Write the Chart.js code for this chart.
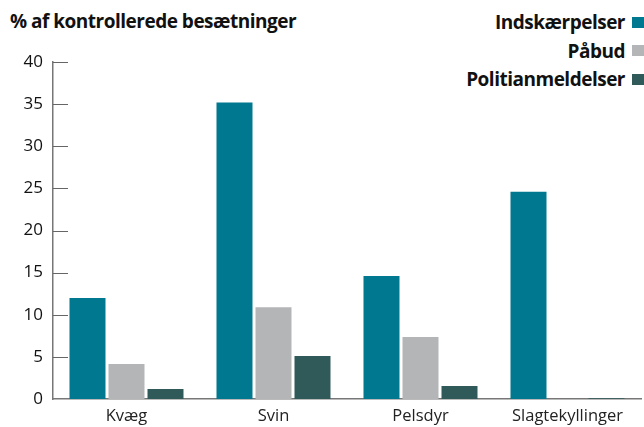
<!DOCTYPE html>
<html>
<head>
<meta charset="utf-8">
<script src="https://cdn.jsdelivr.net/npm/chart.js@4"></script>
<style>
  html,body{margin:0;padding:0;background:#fff;}
  #wrap{position:relative;width:644px;height:427px;font-family:"Open Sans",sans-serif;}
  #title{position:absolute;left:10px;top:8px;font-weight:bold;font-size:19px;color:#111;letter-spacing:-0.5px;white-space:nowrap;}
  #legend{position:absolute;right:0px;top:8px;}
  .li{display:flex;align-items:center;justify-content:flex-end;height:28.5px;font-weight:bold;font-size:19px;color:#111;letter-spacing:-0.5px;white-space:nowrap;}
  .sw{width:12px;height:11px;margin-left:7px;}
  canvas{position:absolute;left:0;top:0;}
</style>
</head>
<body>
<div id="wrap">
  <div id="title">% af kontrollerede besætninger</div>
  <div id="legend"></div>
  <canvas id="c" width="644" height="427"></canvas>
</div>
<script>
const categories = ["Kvæg", "Svin", "Pelsdyr", "Slagtekyllinger"];
const seriesNames = ["Indskærpelser", "Påbud", "Politianmeldelser"];
const indskaerpelser = [12.0, 35.2, 14.6, 24.6];
const paabud = [4.15, 10.9, 7.35, 0];
const politianmeldelser = [1.2, 5.1, 1.55, 0.1];
const yTicks = [0, 5, 10, 15, 20, 25, 30, 35, 40];
const colors = ["#00788f", "#b4b5b7", "#305a5a"];

const values = [indskaerpelser, paabud, politianmeldelser];

const legend = document.getElementById('legend');
seriesNames.forEach((n, i) => {
  const d = document.createElement('div');
  d.className = 'li';
  d.innerHTML = '<span>' + n + '</span><span class="sw" style="background:' + colors[i] + '"></span>';
  legend.appendChild(d);
});

const innerTicks = {
  id: 'innerTicks',
  afterDraw(chart) {
    const y = chart.scales.y, ctx = chart.ctx, left = chart.chartArea.left;
    ctx.save();
    ctx.strokeStyle = '#666';
    ctx.lineWidth = 1;
    y.ticks.forEach((t) => {
      if (t.value === 0) return;
      const py = Math.round(y.getPixelForValue(t.value)) + 0.5;
      ctx.beginPath();
      ctx.moveTo(left, py);
      ctx.lineTo(left + 15, py);
      ctx.stroke();
    });
    ctx.restore();
  }
};

new Chart(document.getElementById('c'), {
  type: 'bar',
  data: {
    labels: categories,
    datasets: seriesNames.map((n, i) => ({
      label: n,
      data: values[i],
      backgroundColor: colors[i],
      borderWidth: 0,
      categoryPercentage: 0.796,
      barPercentage: 0.923
    }))
  },
  options: {
    responsive: false,
    animation: false,
    layout: { padding: { top: 62, right: 3, left: 0, bottom: 0 } },
    plugins: { legend: { display: false }, tooltip: { enabled: false } },
    scales: {
      x: {
        grid: { display: false, drawTicks: false },
        border: { color: '#777', width: 1.5 },
        ticks: { color: '#222', font: { family: 'Open Sans', size: 16.5 }, padding: 7 },
        afterFit(s) { s.height = 28; }
      },
      y: {
        min: 0, max: 40,
        afterBuildTicks(s) { s.ticks = yTicks.map(v => ({ value: v })); },
        grid: { display: false, drawTicks: false },
        border: { color: '#777', width: 1.5 },
        ticks: { color: '#111', font: { family: 'Open Sans', size: 17 }, padding: 10 },
        afterFit(s) { s.width = 53; }
      }
    }
  },
  plugins: [innerTicks]
});
</script>
</body>
</html>
